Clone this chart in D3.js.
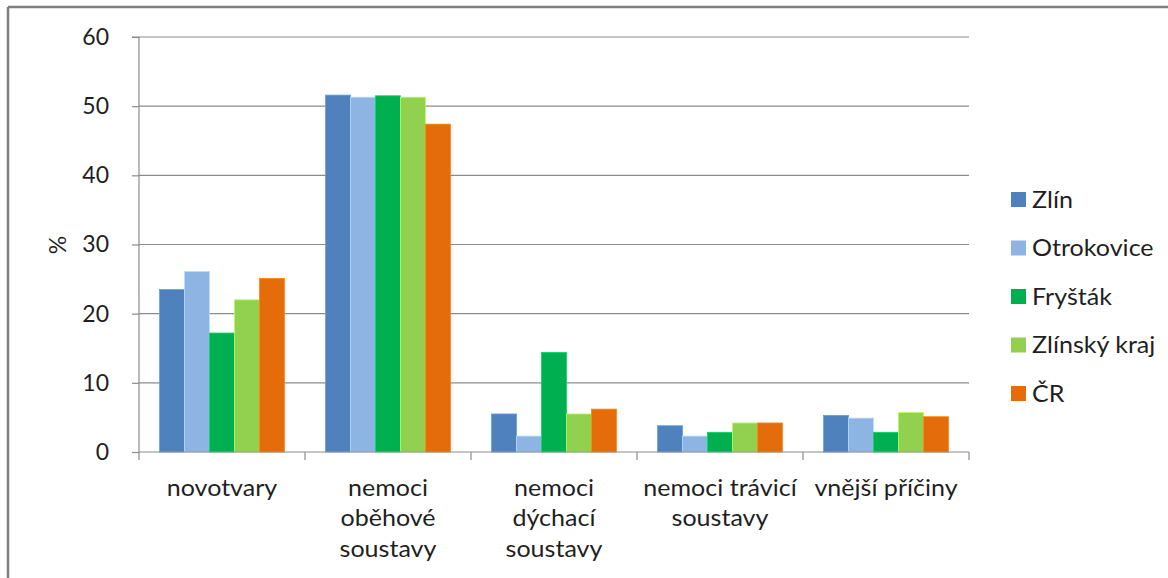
<!DOCTYPE html>
<html><head><meta charset="utf-8">
<script src="https://cdn.jsdelivr.net/npm/d3@7"></script>
<style>
html,body{margin:0;padding:0;background:#fff;}
svg{display:block;}
text{font-family:Lato,"Open Sans",sans-serif;fill:#1f1f1f;}
</style></head>
<body>
<svg id="chart" width="1168" height="578"></svg>
<script>
const categories = [["novotvary"],["nemoci","oběhové","soustavy"],["nemoci","dýchací","soustavy"],["nemoci trávicí","soustavy"],["vnější příčiny"]];
const seriesNames = ["Zlín","Otrokovice","Fryšták","Zlínský kraj","ČR"];
const seriesColors = ["#4F81BD","#8EB4E3","#00B050","#92D050","#E46C0A"];
const zlin = [23.5, 51.6, 5.5, 3.8, 5.3];
const otrokovice = [26.1, 51.3, 2.3, 2.3, 4.9];
const frystak = [17.2, 51.5, 14.4, 2.85, 2.85];
const zlinskyKraj = [22.0, 51.3, 5.5, 4.2, 5.7];
const cr = [25.1, 47.4, 6.2, 4.2, 5.1];
const yTicks = [0,10,20,30,40,50,60];

const seriesValues = [zlin, otrokovice, frystak, zlinskyKraj, cr];
const svg = d3.select("#chart");
const FS = 23, STRETCH = 1.09;

// frame
svg.append("line").attr("x1",8).attr("x2",1168).attr("y1",7).attr("y2",7).attr("stroke","#7f7f7f").attr("stroke-width",2.5);
svg.append("line").attr("x1",8).attr("x2",8).attr("y1",7).attr("y2",578).attr("stroke","#7f7f7f").attr("stroke-width",2.5);

const pLeft = 139, pRight = 969, pTop = 37, pBottom = 452;
const catIdx = categories.map((c,i)=>i);
const x = d3.scaleBand().domain(catIdx).range([pLeft,pRight]).paddingInner(0).paddingOuter(0);
const gapRatio = 1.65;
const y = d3.scaleLinear().domain([0,60]).range([pBottom,pTop]);

// gridlines
svg.append("g").selectAll("line").data(yTicks.filter(t=>t>0)).join("line")
  .attr("x1",pLeft).attr("x2",pRight).attr("y1",d=>y(d)).attr("y2",d=>y(d))
  .attr("stroke","#8c8c8c").attr("stroke-width",1.2);

// bars
const barW = x.bandwidth()/(seriesNames.length+gapRatio);
const inner = d3.scaleBand().domain(seriesNames.map((s,i)=>i))
  .range([barW*gapRatio/2, x.bandwidth()-barW*gapRatio/2]).padding(0);
const barG = svg.append("g");
seriesValues.forEach((vals,si)=>{
  barG.append("g").selectAll("rect").data(vals).join("rect")
    .attr("x",(d,ci)=>x(ci)+inner(si))
    .attr("width",inner.bandwidth())
    .attr("y",d=>y(d))
    .attr("height",d=>y(0)-y(d))
    .attr("fill",seriesColors[si])
    .attr("stroke",d3.color(seriesColors[si]).brighter(0.6))
    .attr("stroke-width",0.8);
});

// y axis
const yAxis = d3.axisLeft(y).tickValues(yTicks).tickSize(7).tickPadding(23);
const yg = svg.append("g").attr("transform",`translate(${pLeft},0)`).call(yAxis);
yg.select(".domain").attr("stroke","#8c8c8c").attr("stroke-width",1.2).attr("d",`M-7,${pTop}H0V${pBottom}`);
yg.selectAll(".tick line").attr("stroke","#8c8c8c").attr("stroke-width",1.2);
yg.selectAll(".tick text").attr("font-size",FS).attr("font-family","Lato").attr("fill","#1f1f1f");

// x axis
const xg = svg.append("g");
xg.append("line").attr("x1",pLeft).attr("x2",pRight).attr("y1",pBottom).attr("y2",pBottom).attr("stroke","#8c8c8c").attr("stroke-width",1.2);
xg.selectAll("line.tk").data(d3.range(categories.length+1)).join("line").attr("class","tk")
  .attr("x1",d=>pLeft+d*x.step()).attr("x2",d=>pLeft+d*x.step())
  .attr("y1",pBottom).attr("y2",pBottom+8).attr("stroke","#8c8c8c").attr("stroke-width",1.2);
xg.selectAll("g.cat").data(categories).join("g").attr("class","cat")
  .attr("transform",(d,i)=>`translate(${x(i)+x.bandwidth()/2},0) scale(${STRETCH},1)`)
  .each(function(lines){
    const t = d3.select(this).append("text").attr("text-anchor","middle").attr("font-size",FS);
    t.selectAll("tspan").data(lines).join("tspan")
      .attr("x",0).attr("y",(l,j)=>496+j*30.5).text(l=>l);
  });

// y label
svg.append("text").attr("transform","translate(66,245) rotate(-90)").attr("text-anchor","middle")
  .attr("font-size",FS).text("%");

// legend
const lg = svg.append("g");
seriesNames.forEach((s,i)=>{
  const ly = 199.5 + i*48.5;
  lg.append("rect").attr("x",1011).attr("y",ly-7.5).attr("width",15).attr("height",15).attr("fill",seriesColors[i]);
  lg.append("g").attr("transform",`translate(1032,${ly+8}) scale(${STRETCH},1)`)
    .append("text").attr("x",0).attr("y",0).attr("font-size",FS).text(s);
});
</script>
</body></html>
